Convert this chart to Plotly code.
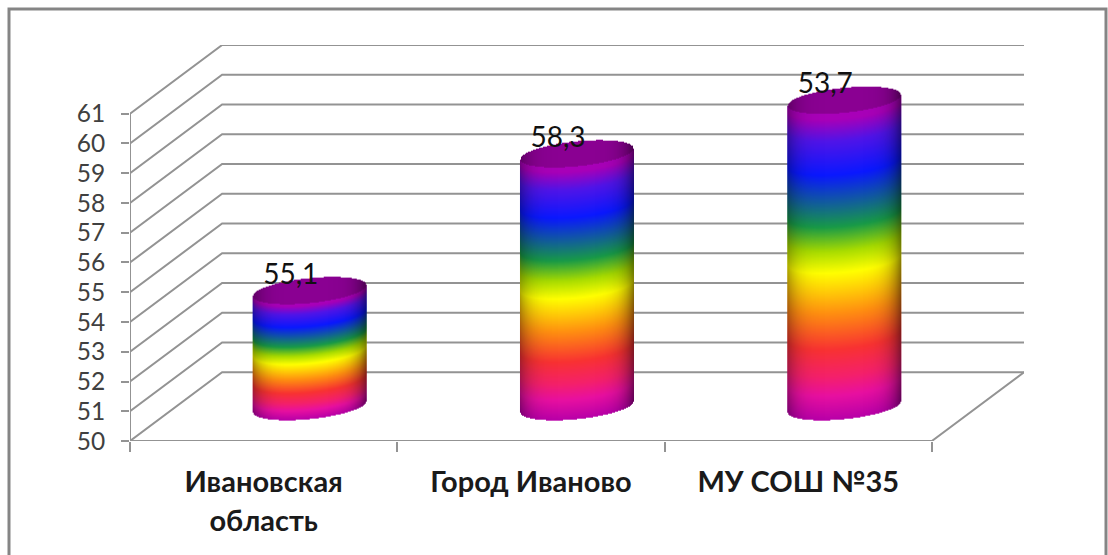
import numpy as np
import plotly.graph_objects as go

# ---- data ----
categories = ["Ивановская<br>область", "Город Иваново", "МУ СОШ №35"]
bar_values = [53.9, 58.5, 60.3]            # drawn heights of the cylinders
bar_labels = ["55,1", "58,3", "53,7"]      # texts printed above them
y_ticks = list(range(50, 62))

# ---- geometry of the fake-3D box, in axis units ----
W, H = 1108, 555
PX_L, PX_R, PX_T, PX_B = 130, 1024, 45, 441
DEPTH_X, DEPTH_Y = 0.3446, 2.31
x_range = [0, 3 + DEPTH_X]
y_range = [50, 61 + DEPTH_Y]
px_x = (PX_R - PX_L) / (x_range[1] - x_range[0])
px_y = (PX_B - PX_T) / (y_range[1] - y_range[0])

GRID = "#939393"
FONT = "Lato, 'Noto Sans', sans-serif"

rainbow = [
    (0.00, "#b800a8"), (0.08, "#e810a0"), (0.14, "#f4206c"), (0.23, "#f83232"),
    (0.35, "#ff9010"), (0.48, "#ffff00"), (0.55, "#a8dc00"), (0.63, "#189a48"),
    (0.80, "#0a18ff"), (0.91, "#5014e8"), (0.98, "#a800b8"), (1.00, "#a800b8"),
]
ZMAX = 1.1
scale = [[p / ZMAX, c] for p, c in rainbow] + [[1.0, "#8a0092"]]
shade_scale = [[0, "rgba(0,0,0,0)"], [1, "rgba(0,0,0,1)"]]

fig = go.Figure()

# grid: front edge -> back wall -> right end
for t in y_ticks:
    fig.add_trace(go.Scatter(
        x=[0, DEPTH_X, 3 + DEPTH_X], y=[t, t + DEPTH_Y, t + DEPTH_Y],
        mode="lines", line=dict(color=GRID, width=2), hoverinfo="skip", showlegend=False))
# left axis line and floor
fig.add_trace(go.Scatter(x=[0, 0], y=[y_ticks[0], y_ticks[-1]], mode="lines",
                         line=dict(color=GRID, width=2), hoverinfo="skip", showlegend=False))
fig.add_trace(go.Scatter(x=[0, 3, 3 + DEPTH_X], y=[50, 50, 50 + DEPTH_Y], mode="lines",
                         line=dict(color=GRID, width=2), hoverinfo="skip", showlegend=False))

# cylinders
half_w = 56.5 / px_x
half_e = 12.5 / px_y
tilt = 5.5 / px_y
for i, val in enumerate(bar_values):
    cx = i + 0.5 + DEPTH_X / 2
    base = 50 + DEPTH_Y / 2
    top = val + DEPTH_Y / 2
    xs = np.arange(cx - half_w, cx + half_w + 1e-9, 1 / px_x)
    ys = np.arange(base - half_e - tilt - 0.05, top + half_e + tilt + 0.05, 1 / px_y)
    X, Y = np.meshgrid(xs, ys)
    T = np.clip((X - cx) / half_w, -1, 1)
    he = half_e * np.sqrt(1 - T ** 2)
    low = base + tilt * T - he
    high = top + tilt * T + he
    mask = (Y >= low) & (Y <= high)
    f = (Y - low) / (val - 50)
    z = np.where(np.abs(Y - (top + tilt * T)) <= he, 1.1, np.clip(f, 0, 1))
    z = np.where(mask, z, np.nan)
    dark = np.where(T > 0, 0.48, 0.32) * np.abs(T) ** 5
    dark = np.where(mask, np.clip(dark, 0, 1), np.nan)
    common = dict(x=np.round(xs, 4).tolist(), y=np.round(ys, 4).tolist(), xaxis="x2", yaxis="y2",
                  showscale=False, hoverinfo="skip", zsmooth=False)
    fig.add_trace(go.Heatmap(z=np.round(z, 3).tolist(), zmin=0, zmax=ZMAX, colorscale=scale, **common))
    fig.add_trace(go.Heatmap(z=np.round(dark, 3).tolist(), zmin=0, zmax=1, colorscale=shade_scale, **common))

# value labels
fig.add_trace(go.Scatter(
    x=[i + 0.5 + DEPTH_X / 2 - 19 / px_x for i in range(3)],
    y=[v + DEPTH_Y / 2 + 14 / px_y for v in bar_values],
    text=bar_labels, mode="text", textposition="middle center",
    textfont=dict(family=FONT, size=28, color="#111111"),
    xaxis="x2", yaxis="y2", hoverinfo="skip", showlegend=False))

# outer frame, in paper units
def px(x): return (x - PX_L) / (PX_R - PX_L)
def py(y): return (PX_B - y) / (PX_B - PX_T)
frame = f"M{px(9)},{py(560)} L{px(9)},{py(9)} L{px(1106)},{py(9)} L{px(1106)},{py(560)}"
fig.add_shape(type="path", path=frame, xref="paper", yref="paper",
              line=dict(color="#858585", width=3))

cat_text = ["<br>".join(f'<span style="font-size:29px">{p}</span>' for p in c.split("<br>"))
            for c in categories]

fig.update_layout(
    width=W, height=H, autosize=False,
    margin=dict(l=PX_L, r=W - PX_R, t=PX_T, b=H - PX_B, pad=0),
    paper_bgcolor="white", plot_bgcolor="white", showlegend=False,
    xaxis=dict(range=x_range, tickmode="array", tickvals=[0.5, 1.5, 2.5], ticktext=cat_text,
               ticks="", showgrid=False, zeroline=False, showline=False, fixedrange=True,
               tickfont=dict(family=FONT, size=30, color="#1a1a1a", weight="bold"),
               tickangle=0, ticklabelstandoff=20,
               minor=dict(tickmode="array", tickvals=[0, 1, 2, 3], ticks="outside",
                          ticklen=10, tickwidth=2, tickcolor=GRID, showgrid=False)),
    yaxis=dict(range=y_range, tickmode="array", tickvals=y_ticks, ticks="outside", ticklen=8,
               tickwidth=2, tickcolor=GRID, showgrid=False, zeroline=False, showline=False,
               fixedrange=True, ticklabelstandoff=11,
               tickfont=dict(family=FONT, size=24.5, color="#404040")),
    xaxis2=dict(range=x_range, overlaying="x", visible=False, fixedrange=True),
    yaxis2=dict(range=y_range, overlaying="y", visible=False, fixedrange=True),
)

fig.write_html("out.html", config={"displayModeBar": False, "responsive": False},
               post_script="document.body.style.margin='0';")
